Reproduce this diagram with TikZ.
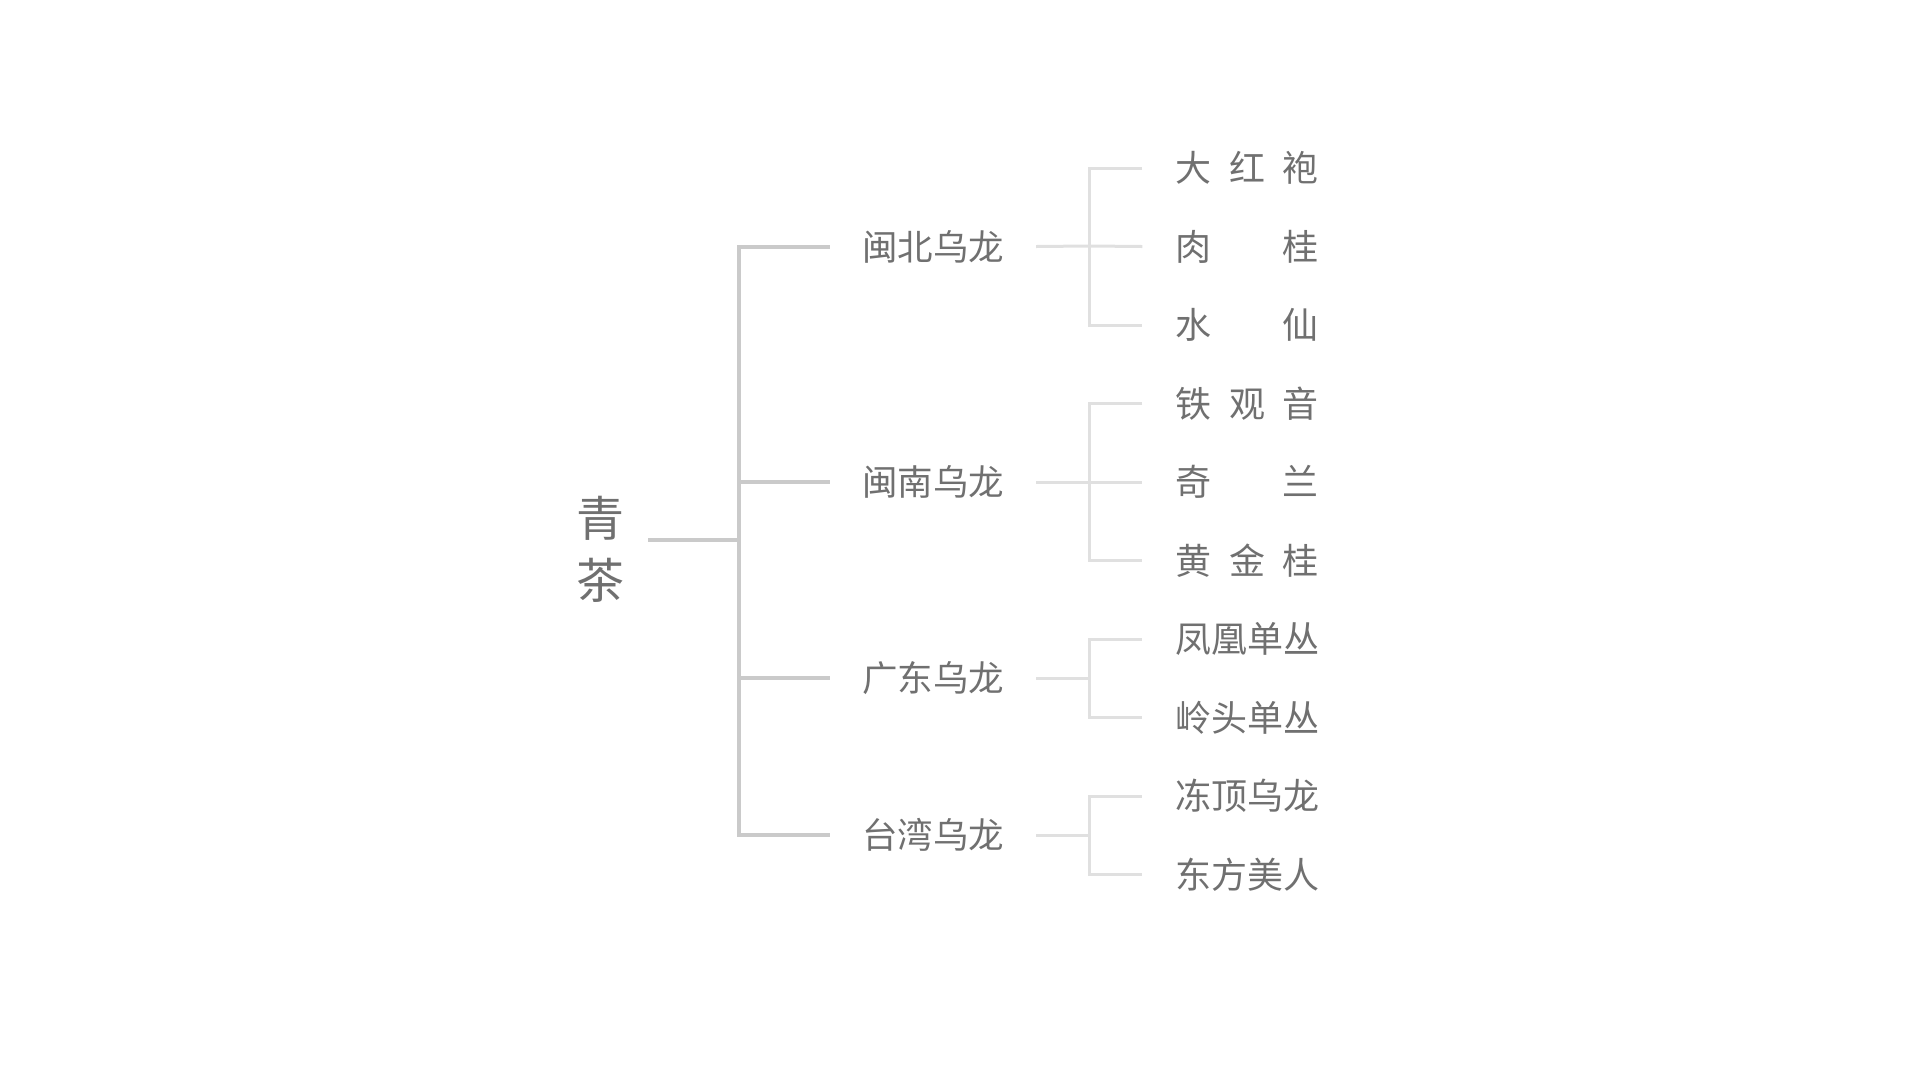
\documentclass[tikz,border=0pt]{standalone}
\usepackage{fontspec}
\setmainfont{Noto Sans CJK SC}
\usepackage{tikz}
\usetikzlibrary{shapes,arrows}
\definecolor{inkgray}{HTML}{707070}
\definecolor{trunkgray}{HTML}{CACACA}
\definecolor{twiggray}{HTML}{E0E0E0}
\tikzstyle{rootstyle} = [text=inkgray, font=\fontsize{48pt}{62pt}\selectfont, align=center, inner xsep=24pt]
\tikzstyle{kind} = [text=inkgray, font=\fontsize{35.5pt}{40pt}\selectfont, inner xsep=32pt]
\tikzstyle{leaf} = [text=inkgray, font=\fontsize{36pt}{40pt}\selectfont, inner xsep=33pt]
\tikzstyle{trunk} = [draw=trunkgray, line width=4pt]
\tikzstyle{twig} = [draw=twiggray, line width=3pt]
\newcommand{\spreadname}[1]{\makebox[143pt]{#1}}

\begin{document}
\begin{tikzpicture}[x=1pt, y=-1pt, node distance=78.5pt]
		\useasboundingbox (0,0) rectangle (1919,1080);
		\node [rootstyle] (tea) at (600,549) {青\\茶};
		\node [leaf] (dhp) at (1247,168) {\spreadname{大\hfill 红\hfill 袍}};
		\node [leaf, below of=dhp] (rg) {\spreadname{肉\hfill 桂}};
		\node [leaf, below of=rg] (sx) {\spreadname{水\hfill 仙}};
		\node [leaf, below of=sx] (tgy) {\spreadname{铁\hfill 观\hfill 音}};
		\node [leaf, below of=tgy] (ql) {\spreadname{奇\hfill 兰}};
		\node [leaf, below of=ql] (hjg) {\spreadname{黄\hfill 金\hfill 桂}};
		\node [leaf, below of=hjg] (fh) {凤凰单丛};
		\node [leaf, below of=fh] (lt) {岭头单丛};
		\node [leaf, below of=lt] (dd) {冻顶乌龙};
		\node [leaf, below of=dd] (df) {东方美人};
		\node [kind, left of=rg, node distance=314pt] (minbei) {闽北乌龙};
		\node [kind, left of=ql, node distance=314pt] (minnan) {闽南乌龙};
		\node [kind] (guangdong) at (933,678) {广东乌龙};
		\node [kind] (taiwan) at (933,835) {台湾乌龙};
		\coordinate (jroot) at (739,540);
		\coordinate (jbei) at (1089,246);
		\coordinate (jnan) at (1089,482);
		\coordinate (jgd) at (1089,678);
		\coordinate (jtw) at (1089,835);

		% trunk
		\draw [trunk] (tea.east |- jroot) -- (jroot);
		\draw [trunk] (minbei.west) -| (jroot) |- (taiwan.west);
		\draw [trunk] (jroot |- minnan.west) -- (minnan.west);
		\draw [trunk] (jroot |- guangdong.west) -- (guangdong.west);

		% twigs
		\draw [twig] (minbei.east) -- (jbei);
		\draw [twig] (dhp.west) -| (jbei) |- (sx.west);
		\draw [twig] (jbei) -- (rg.west);
		\draw [twig] (minnan.east) -- (jnan);
		\draw [twig] (tgy.west) -| (jnan) |- (hjg.west);
		\draw [twig] (jnan) -- (ql.west);
		\draw [twig] (guangdong.east) -- (jgd);
		\draw [twig] (fh.west) -| (jgd) |- (lt.west);
		\draw [twig] (taiwan.east) -- (jtw);
		\draw [twig] (dd.west) -| (jtw) |- (df.west);
		\end{tikzpicture}
\end{document}
